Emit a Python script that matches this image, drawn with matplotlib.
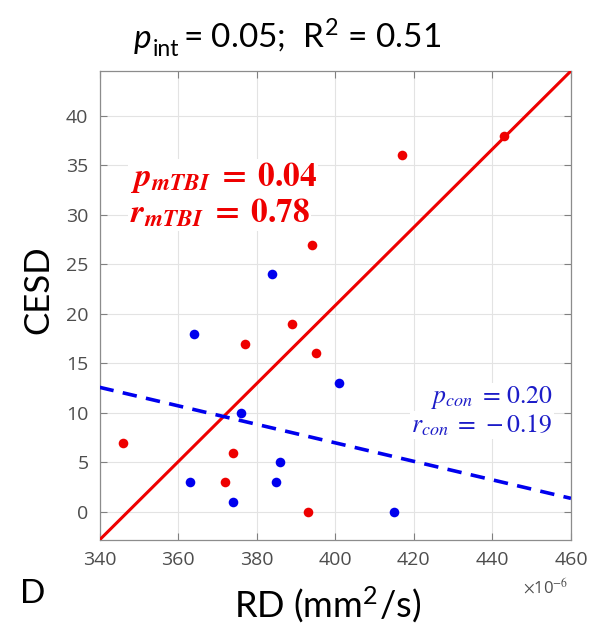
#!/usr/bin/env python3
"""CESD vs radial diffusivity, mTBI and control groups with separate fits."""

import matplotlib
matplotlib.use("Agg")
import matplotlib.pyplot as plt
from matplotlib.transforms import offset_copy
import numpy as np

# RD in units of 1e-6 mm^2/s
mtbi_rd = [346, 372, 374, 377, 389, 393, 394, 395, 417, 443]
mtbi_cesd = [7, 3, 6, 17, 19, 0, 27, 16, 36, 38]
con_rd = [384, 364, 376, 401, 363, 374, 385, 386, 415]
con_cesd = [24, 18, 10, 13, 3, 1, 3, 5, 0]
x_ticks = [340, 360, 380, 400, 420, 440, 460]
y_ticks = [0, 5, 10, 15, 20, 25, 30, 35, 40]

RED = "#ee0000"
BLUE = "#0000ee"
TICK_GRAY = "#4d4d4d"

plt.rcParams["mathtext.fontset"] = "stix"

fig = plt.figure(figsize=(5.93, 6.27), dpi=100)
ax = fig.add_axes([0.1678, 0.1388, 0.795, 0.748])

x_range = np.array([x_ticks[0], x_ticks[-1]])
red_fit = np.polyfit(mtbi_rd, mtbi_cesd, 1)
blue_fit = np.polyfit(con_rd, con_cesd, 1)
red_line = np.polyval(red_fit, x_range)
blue_line = np.polyval(blue_fit, x_range)

ax.plot(x_range, red_line, color=RED, linewidth=2.2, zorder=3)
ax.plot(x_range, blue_line, color=BLUE, linewidth=2.6,
        linestyle=(0, (4, 2.6)), zorder=3)
ax.scatter(mtbi_rd, mtbi_cesd, s=48, color=RED, zorder=4, linewidths=0)
ax.scatter(con_rd, con_cesd, s=48, color=BLUE, zorder=4, linewidths=0)

ax.set_xlim(x_range)
ax.set_ylim(red_line[0], red_line[1])
ax.set_xticks(x_ticks)
ax.set_yticks(y_ticks)
ax.grid(True, color="#e3e3e3", linewidth=0.8)
ax.set_axisbelow(True)
ax.tick_params(direction="in", length=5, width=0.8, top=True, right=True,
               labelsize=14, labelcolor=TICK_GRAY, color="#808080", pad=8)
for lab in ax.get_xticklabels() + ax.get_yticklabels():
    lab.set_fontfamily("Open Sans")
for spine in ax.spines.values():
    spine.set_color("#8c8c8c")
    spine.set_linewidth(0.9)

box = dict(facecolor="white", edgecolor="none", pad=1)
ax.text(0.064, 0.773, r"$\mathbfit{p}_{\mathbfit{mTBI}}\;\mathbf{=\;0.04}$",
        transform=ax.transAxes, color=RED, fontsize=24, va="center",
        ha="left", bbox=box, zorder=5)
ax.text(0.064, 0.697, r"$\mathbfit{r}_{\mathbfit{mTBI}}\;\mathbf{=\;0.78}$",
        transform=ax.transAxes, color=RED, fontsize=24, va="center",
        ha="left", bbox=box, zorder=5)
ax.text(0.962, 0.303, r"$p_{con}\;=\,0.20$", transform=ax.transAxes,
        color="#1c1cc8", fontsize=18.5, va="center", ha="right", bbox=box,
        zorder=5)
ax.text(0.962, 0.245, r"$r_{con}\;=\,-0.19$", transform=ax.transAxes,
        color="#1c1cc8", fontsize=18.5, va="center", ha="right", bbox=box,
        zorder=5)

# title built from pieces: italic p, subscript "int", then the rest
title_y = 0.924
renderer = fig.canvas.get_renderer()
t_p = fig.text(0.226, title_y, "p", style="italic", fontsize=24,
               family="Lato", ha="left", va="baseline")
t_p_ext = t_p.get_window_extent(renderer)
t_sub = fig.text(t_p_ext.x1 / fig.bbox.width + 0.002, title_y, "int",
                 fontsize=16.5, family="Lato", ha="left", va="baseline",
                 transform=offset_copy(fig.transFigure, fig=fig, y=-6,
                                       units="points"))
t_sub_ext = t_sub.get_window_extent(renderer)
fig.text(t_sub_ext.x1 / fig.bbox.width + 0.006, title_y,
         "= 0.05;  R$^\\mathregular{2}$ = 0.51", fontsize=24, family="Lato",
         ha="left", va="baseline")

fig.text(0.064, 0.538, "CESD", rotation=90, ha="center", va="center",
         fontsize=25, family="Lato")
fig.text(0.552, 0.036, "RD (mm$^\\mathregular{2}$/s)", ha="center",
         va="center", fontsize=26, family="Lato")
fig.text(0.055, 0.052, "D", ha="center", va="center", fontsize=24,
         family="Lato")
fig.text(0.92, 0.063, r"$\times$10$^{-6}$", ha="center", va="center",
         fontsize=12, color=TICK_GRAY, family="Open Sans")

fig.savefig("out.png", dpi=100)
